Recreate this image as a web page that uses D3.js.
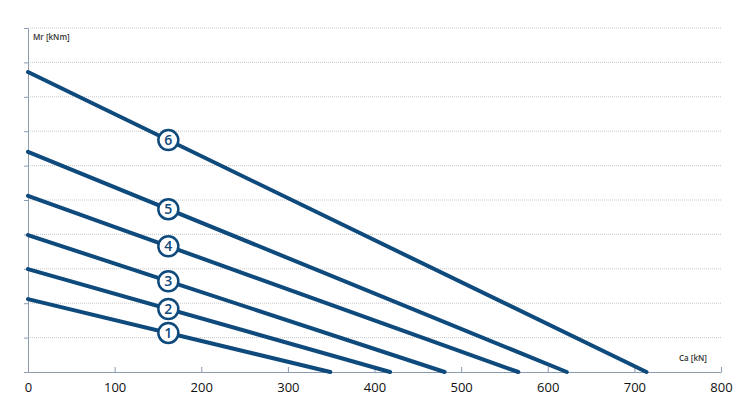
<!DOCTYPE html><html><head><script src="https://cdn.jsdelivr.net/npm/d3@7"></script>
<style>body{margin:0;background:#fff}</style></head><body><svg id="c" width="752" height="408"></svg>
<script>
const seriesNames=["1","2","3","4","5","6"];
const startMr=[2.12,2.99,3.98,5.12,6.4,8.72];
const endCa=[349,418,481,566,622,714];
const xTicks=[0,100,200,300,400,500,600,700,800];
const yTicks=[0,1,2,3,4,5,6,7,8,9,10];
const labelCa=162;
const col="#0f4a7c";
const svg=d3.select("#c");
const x=d3.scaleLinear().domain([0,800]).range([28,721]);
const y=d3.scaleLinear().domain([0,10]).range([372,28]);
svg.append("g").selectAll("line").data(yTicks.slice(1)).join("line")
 .attr("x1",28).attr("x2",721).attr("y1",d=>y(d)).attr("y2",d=>y(d))
 .attr("stroke","#c8c8c8").attr("stroke-dasharray","1,1");
const xa=svg.append("g").attr("transform","translate(0,372)").call(d3.axisBottom(x).tickValues(xTicks).tickSize(5).tickSizeOuter(0));
xa.select(".domain").attr("stroke","#8a9ab0");
xa.selectAll("line").attr("stroke","#8a9ab0").attr("transform","translate(0,-5)");
xa.selectAll("text").attr("font-family","Open Sans").attr("font-size",13).attr("fill","#111").attr("dy","0.9em");
const ya=svg.append("g").attr("transform","translate(28,0)").call(d3.axisLeft(y).tickValues(yTicks).tickSize(4).tickFormat("").tickSizeOuter(0));
ya.select(".domain").attr("stroke","#8a9ab0");
ya.selectAll("line").attr("stroke","#8a9ab0");
svg.append("text").attr("x",33).attr("y",40).text("Mr [kNm]").attr("font-family","Open Sans").attr("font-size",8).attr("font-weight",600).attr("fill","#333");
svg.append("text").attr("x",679).attr("y",361).text("Ca [kN]").attr("font-family","Open Sans").attr("font-size",8).attr("font-weight",600).attr("fill","#333");
seriesNames.forEach((n,i)=>{
 svg.append("line").attr("x1",x(0)).attr("y1",y(startMr[i])).attr("x2",x(endCa[i])).attr("y2",y(0))
  .attr("stroke",col).attr("stroke-width",4).attr("stroke-linecap","round");
});
seriesNames.forEach((n,i)=>{
 const v=startMr[i]*(1-labelCa/endCa[i]);
 const g=svg.append("g").attr("transform",`translate(${x(labelCa)},${y(v)})`);
 g.append("circle").attr("r",10).attr("fill","#fff").attr("stroke",col).attr("stroke-width",2.5);
 g.append("text").text(n).attr("text-anchor","middle").attr("dy","0.36em").attr("font-family","Open Sans").attr("font-size",14).attr("font-weight",600).attr("fill",col);
});
</script></body></html>
